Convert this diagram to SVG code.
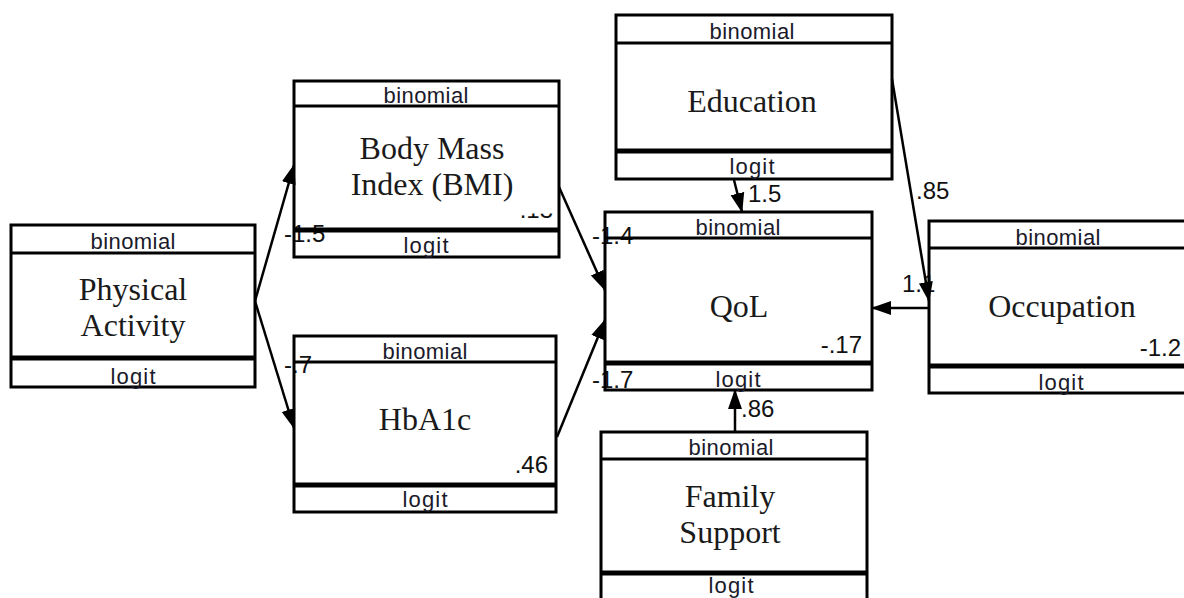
<svg xmlns="http://www.w3.org/2000/svg" width="1184" height="598" viewBox="0 0 1184 598">
<style>
.box{fill:none;stroke:#000;stroke-width:3}
.hdr{stroke:#000;stroke-width:3}
.thk{stroke:#000;stroke-width:5}
.small{font-family:"Liberation Sans",Arial,sans-serif;font-size:22px;fill:#1a1a2a;text-anchor:middle}
.name{font-family:"Liberation Serif","Times New Roman",serif;font-size:32px;fill:#1a1a1a;text-anchor:middle}
.num{font-family:"Liberation Sans",Arial,sans-serif;font-size:24px;fill:#111}
.numr{font-family:"Liberation Sans",Arial,sans-serif;font-size:24px;fill:#111;text-anchor:end}
.edge{stroke:#000;stroke-width:2.5;fill:none}
</style>
<defs>
<marker id="ah" viewBox="0 0 20 16" refX="19" refY="8" markerWidth="20" markerHeight="16" orient="auto" markerUnits="userSpaceOnUse">
<path d="M0,1 L20,8 L0,15 z" fill="#000"/>
</marker>
<clipPath id="bmiclip"><rect x="500" y="213.5" width="57" height="4.5"/></clipPath>
</defs>
<rect x="0" y="0" width="1184" height="598" fill="#fff"/>

<g id="edge-labels">
<text class="num" x="284" y="242">-1.5</text>
<text class="num" x="284" y="373">-.7</text>
<text class="num" x="592" y="244">-1.4</text>
<text class="num" x="592" y="388">-1.7</text>
<text class="num" x="748" y="202">1.5</text>
<text class="num" x="916" y="199">.85</text>
<text class="num" x="902" y="292">1.1</text>
<text class="num" x="741" y="417">.86</text>
</g>

<g id="node-physical-activity">
<rect class="box" x="11" y="225" width="244" height="162"/>
<line class="hdr" x1="11" y1="253" x2="255" y2="253"/>
<line class="thk" x1="11" y1="358" x2="255" y2="358"/>
<text class="small" x="133" y="249" textLength="85">binomial</text>
<text class="name" x="133" y="300">Physical</text>
<text class="name" x="133" y="336">Activity</text>
<text class="small" x="133" y="384" textLength="45">logit</text>
</g>

<g id="node-bmi">
<rect class="box" x="294" y="81" width="265" height="176"/>
<line class="hdr" x1="294" y1="106" x2="559" y2="106"/>
<line class="thk" x1="294" y1="230" x2="559" y2="230"/>
<text class="small" x="426" y="103" textLength="85">binomial</text>
<text class="name" x="432" y="159">Body Mass</text>
<text class="name" x="432" y="195">Index (BMI)</text>
<text class="numr" x="553" y="218" clip-path="url(#bmiclip)">.13</text>
<text class="small" x="426" y="253" textLength="45">logit</text>
</g>

<g id="node-hba1c">
<rect class="box" x="294" y="336" width="262" height="176"/>
<line class="hdr" x1="294" y1="362" x2="556" y2="362"/>
<line class="thk" x1="294" y1="485" x2="556" y2="485"/>
<text class="small" x="425" y="359" textLength="85">binomial</text>
<text class="name" x="425" y="430">HbA1c</text>
<text class="numr" x="548" y="473">.46</text>
<text class="small" x="425" y="507" textLength="45">logit</text>
</g>

<g id="node-qol">
<rect class="box" x="605" y="212" width="267" height="178"/>
<line class="hdr" x1="605" y1="238" x2="872" y2="238"/>
<line class="thk" x1="605" y1="363" x2="872" y2="363"/>
<text class="small" x="738" y="235" textLength="85">binomial</text>
<text class="name" x="739" y="317">QoL</text>
<text class="numr" x="862" y="353">-.17</text>
<text class="small" x="738" y="387" textLength="45">logit</text>
</g>

<g id="node-education">
<rect class="box" x="616" y="15" width="276" height="164"/>
<line class="hdr" x1="616" y1="43" x2="892" y2="43"/>
<line class="thk" x1="616" y1="151" x2="892" y2="151"/>
<text class="small" x="752" y="39" textLength="85">binomial</text>
<text class="name" x="752" y="112">Education</text>
<text class="small" x="752" y="174" textLength="45">logit</text>
</g>

<g id="node-occupation">
<rect class="box" x="929" y="221" width="262" height="172"/>
<line class="hdr" x1="929" y1="248" x2="1191" y2="248"/>
<line class="thk" x1="929" y1="366" x2="1191" y2="366"/>
<text class="small" x="1058" y="245" textLength="85">binomial</text>
<text class="name" x="1062" y="317">Occupation</text>
<text class="numr" x="1181" y="356">-1.2</text>
<text class="small" x="1061" y="390" textLength="45">logit</text>
</g>

<g id="node-family-support">
<rect class="box" x="601" y="432" width="266" height="180"/>
<line class="hdr" x1="601" y1="459" x2="867" y2="459"/>
<line class="thk" x1="601" y1="573" x2="867" y2="573"/>
<text class="small" x="731" y="455" textLength="85">binomial</text>
<text class="name" x="730" y="507">Family</text>
<text class="name" x="730" y="543">Support</text>
<text class="small" x="731" y="593" textLength="45">logit</text>
</g>

<g id="connectors">
<line class="edge" marker-end="url(#ah)" x1="255" y1="301" x2="294" y2="165"/>
<line class="edge" marker-end="url(#ah)" x1="255" y1="301" x2="294" y2="428"/>
<line class="edge" marker-end="url(#ah)" x1="559" y1="187" x2="605" y2="290"/>
<line class="edge" marker-end="url(#ah)" x1="557" y1="437" x2="605" y2="320"/>
<line class="edge" marker-end="url(#ah)" x1="734" y1="180" x2="742" y2="212"/>
<line class="edge" marker-end="url(#ah)" x1="892" y1="79" x2="929" y2="301"/>
<line class="edge" marker-end="url(#ah)" x1="929" y1="308" x2="872" y2="308"/>
<line class="edge" marker-end="url(#ah)" x1="735" y1="432" x2="735" y2="390"/>
</g>
</svg>
